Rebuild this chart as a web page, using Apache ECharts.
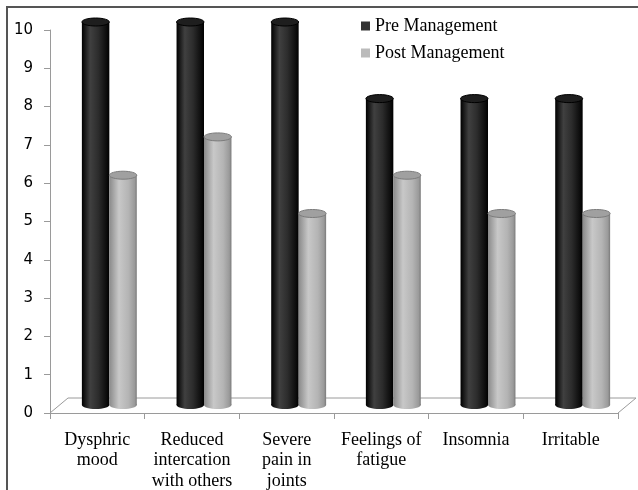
<!DOCTYPE html>
<html>
<head>
<meta charset="utf-8">
<script src="https://cdn.jsdelivr.net/npm/echarts@6/dist/echarts.min.js"></script>
<style>
  html, body { margin: 0; padding: 0; background: #fff; }
  #chart { width: 638px; height: 490px; }
</style>
</head>
<body>
<div id="chart"></div>
<script>
const categories = [
  'Dysphric\nmood',
  'Reduced\nintercation\nwith others',
  'Severe\npain in\njoints',
  'Feelings of\nfatigue',
  'Insomnia',
  'Irritable'
]
const preManagement = [10, 10, 10, 8, 8, 8]
const postManagement = [6, 7, 5, 6, 5, 5]

// fake 3d depth: bars sit a bit behind the front edge of the floor
const DEPTH_X = 12
const DEPTH_Y = -8
const FLOOR_X = 18
const FLOOR_Y = 15

const shades = [
  {
    side: [[0, '#000'], [0.3, '#404040'], [0.6, '#2c2c2c'], [0.9, '#0c0c0c'], [1, '#000']],
    top: '#1e1e1e', rim: '#000'
  },
  {
    side: [[0, '#8a8a8a'], [0.35, '#c8c8c8'], [0.7, '#b4b4b4'], [0.92, '#9a9a9a'], [1, '#7a7a7a']],
    top: '#a0a0a0', rim: '#7c7c7c'
  }
]

const cylinder = (k) => (params, api) => {
  const cat = api.value(0)
  const base = api.coord([cat, 0])
  const end = api.coord([cat, api.value(1)])
  const w = api.size([1, 0])[0] * 0.29
  const cx = base[0] + DEPTH_X + (k === 0 ? -w / 2 : w / 2)
  const yb = base[1] + DEPTH_Y
  const yt = end[1] + DEPTH_Y
  const ry = 4
  const grad = new echarts.graphic.LinearGradient(0, 0, 1, 0,
    shades[k].side.map(s => ({ offset: s[0], color: s[1] })))
  return {
    type: 'group',
    children: [
      { type: 'ellipse', shape: { cx: cx, cy: yb, rx: w / 2, ry: ry }, style: { fill: grad } },
      { type: 'rect', shape: { x: cx - w / 2, y: yt, width: w, height: yb - yt }, style: { fill: grad } },
      { type: 'ellipse', shape: { cx: cx, cy: yt, rx: w / 2, ry: ry },
        style: { fill: shades[k].top, stroke: shades[k].rim, lineWidth: 1 } }
    ]
  }
}

const floor = (params, api) => {
  const cs = params.coordSys
  const x0 = cs.x, x1 = cs.x + cs.width, y0 = cs.y + cs.height
  const st = { stroke: '#9a9a9a', lineWidth: 1, fill: null }
  return {
    type: 'group',
    children: [
      { type: 'line', shape: { x1: x0 + FLOOR_X, y1: y0 - FLOOR_Y, x2: x1 + FLOOR_X, y2: y0 - FLOOR_Y }, style: st },
      { type: 'line', shape: { x1: x0, y1: y0, x2: x0 + FLOOR_X, y2: y0 - FLOOR_Y }, style: st },
      { type: 'line', shape: { x1: x1, y1: y0, x2: x1 + FLOOR_X, y2: y0 - FLOOR_Y }, style: st }
    ]
  }
}

const chart = echarts.init(document.getElementById('chart'))

chart.setOption({
  animation: false,
  graphic: [
    {
      type: 'polyline',
      shape: { points: [[7, 490], [7, 7], [638, 7]] },
      style: { stroke: '#555', lineWidth: 2, fill: null }
    }
  ],
  legend: {
    data: ['Pre Management', 'Post Management'],
    orient: 'vertical',
    left: 356,
    top: 12,
    icon: 'rect',
    itemWidth: 9,
    itemHeight: 9,
    itemGap: 9,
    textStyle: { fontFamily: 'Liberation Serif', fontSize: 18, color: '#000' }
  },
  grid: { left: 50, right: 20, top: 30, bottom: 77, outerBoundsMode: 'none' },
  xAxis: {
    type: 'category',
    data: categories,
    axisLine: { lineStyle: { color: '#9a9a9a' } },
    axisTick: { show: true, interval: 0, length: 6, lineStyle: { color: '#9a9a9a' } },
    axisLabel: {
      interval: 0,
      margin: 17,
      color: '#000',
      fontFamily: 'Liberation Serif',
      fontSize: 18,
      lineHeight: 20.5
    },
    splitLine: { show: false }
  },
  yAxis: {
    type: 'value',
    min: 0,
    max: 10,
    interval: 1,
    axisLine: { show: true, lineStyle: { color: '#9a9a9a' } },
    axisTick: { show: true, length: 6, lineStyle: { color: '#9a9a9a' } },
    axisLabel: { margin: 17, color: '#000', fontFamily: 'DejaVu Sans', fontSize: 15 },
    splitLine: { show: false }
  },
  series: [
    {
      name: 'floor',
      type: 'custom',
      renderItem: floor,
      data: [[0, 0]],
      silent: true,
      z: 1
    },
    {
      name: 'Pre Management',
      type: 'custom',
      renderItem: cylinder(0),
      itemStyle: { color: '#333' },
      data: preManagement.map((v, i) => [i, v]),
      z: 2
    },
    {
      name: 'Post Management',
      type: 'custom',
      renderItem: cylinder(1),
      itemStyle: { color: '#bbb' },
      data: postManagement.map((v, i) => [i, v]),
      z: 3
    }
  ]
})
</script>
</body>
</html>
